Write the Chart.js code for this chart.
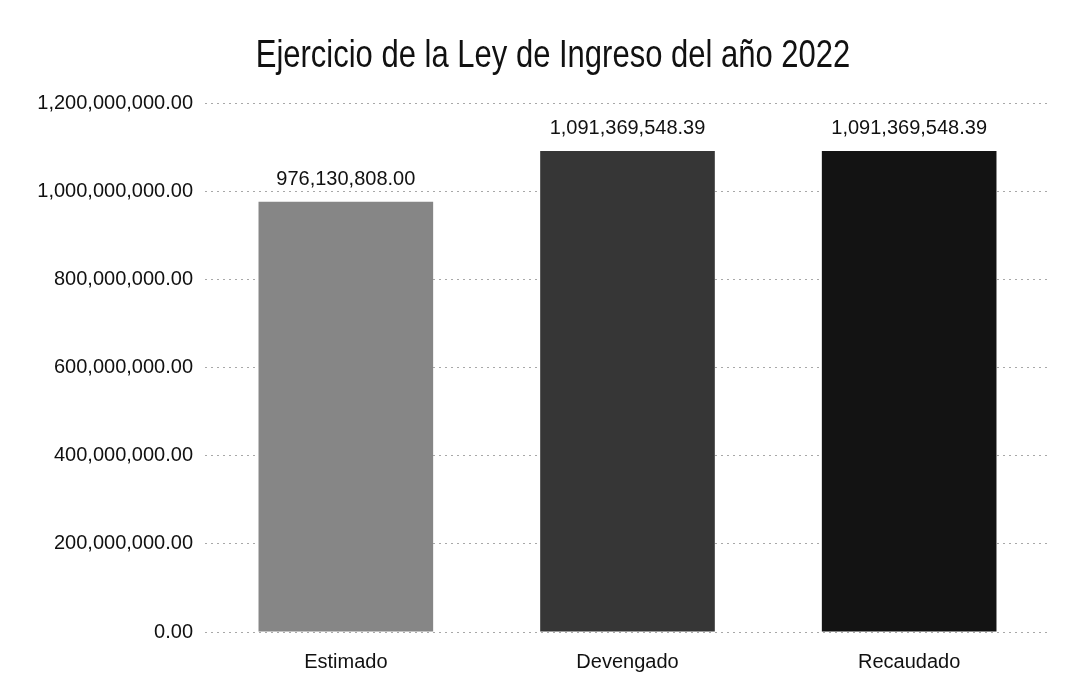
<!DOCTYPE html>
<html>
<head>
<meta charset="utf-8">
<script src="https://cdn.jsdelivr.net/npm/chart.js@4.4.0/dist/chart.umd.min.js"></script>
<style>
  html, body { margin: 0; padding: 0; background: #fff; }
  #wrap { width: 1066px; height: 688px; }
</style>
</head>
<body>
<div id="wrap"><canvas id="myChart"></canvas></div>
<script>
// data
const titulo = 'Ejercicio de la Ley de Ingreso del año 2022';
const categories = ['Estimado', 'Devengado', 'Recaudado'];
const montos = [976130808.00, 1091369548.39, 1091369548.39];
const colores = ['#868686', '#363636', '#131313'];
const yTicks = [0, 200000000, 400000000, 600000000, 800000000, 1000000000, 1200000000];

const fontFam = '"Liberation Sans", Arial, sans-serif';

const fmt = v => Number(v).toLocaleString('en-US', { minimumFractionDigits: 2, maximumFractionDigits: 2 });

// title drawn a bit stretched, the original uses a tall narrow face
const tallTitle = {
    id: 'tallTitle',
    afterDraw(chart) {
        const ctx = chart.ctx;
        ctx.save();
        ctx.font = '31px ' + fontFam;
        ctx.fillStyle = '#111';
        ctx.textAlign = 'center';
        ctx.textBaseline = 'alphabetic';
        ctx.translate(553, 67);
        ctx.scale(1, 1.25);
        ctx.fillText(titulo, 0, 0);
        ctx.restore();
    }
};

// value labels on top of each bar
const valueLabels = {
    id: 'valueLabels',
    afterDatasetsDraw(chart) {
        const ctx = chart.ctx;
        const meta = chart.getDatasetMeta(0);
        ctx.save();
        ctx.font = '20px ' + fontFam;
        ctx.fillStyle = '#111';
        ctx.textAlign = 'center';
        ctx.textBaseline = 'alphabetic';
        meta.data.forEach((bar, i) => {
            ctx.fillText(fmt(montos[i]), bar.x, bar.y - 17);
        });
        ctx.restore();
    }
};

const chart = new Chart(
    document.getElementById('myChart'),
    {
        type: 'bar',
        data: {
            labels: categories,
            datasets: [
                {
                    data: montos,
                    backgroundColor: colores,
                    borderWidth: 0,
                    barPercentage: 0.62,
                    categoryPercentage: 1
                }
            ]
        },
        options: {
            responsive: true,
            maintainAspectRatio: false,
            animation: false,
            layout: { padding: { left: 0, right: 16, top: 103, bottom: 0 } },
            plugins: {
                legend: { display: false },
                tooltip: { enabled: false },
                title: { display: false }
            },
            scales: {
                x: {
                    grid: { display: false },
                    border: { display: false },
                    ticks: {
                        color: '#111',
                        font: { family: fontFam, size: 20 },
                        padding: 10
                    },
                    afterFit(scale) { scale.height = 56; }
                },
                y: {
                    min: 0,
                    max: 1200000000,
                    afterBuildTicks(scale) { scale.ticks = yTicks.map(v => ({ value: v })); },
                    grid: {
                        color: '#a8a8a8',
                        lineWidth: 1,
                        drawTicks: false
                    },
                    border: { display: false, dash: [2, 4] },
                    ticks: {
                        color: '#111',
                        font: { family: fontFam, size: 20 },
                        padding: 12,
                        callback: v => fmt(v)
                    },
                    afterFit(scale) { scale.width = 205; }
                }
            }
        },
        plugins: [valueLabels, tallTitle]
    }
);
</script>
</body>
</html>
